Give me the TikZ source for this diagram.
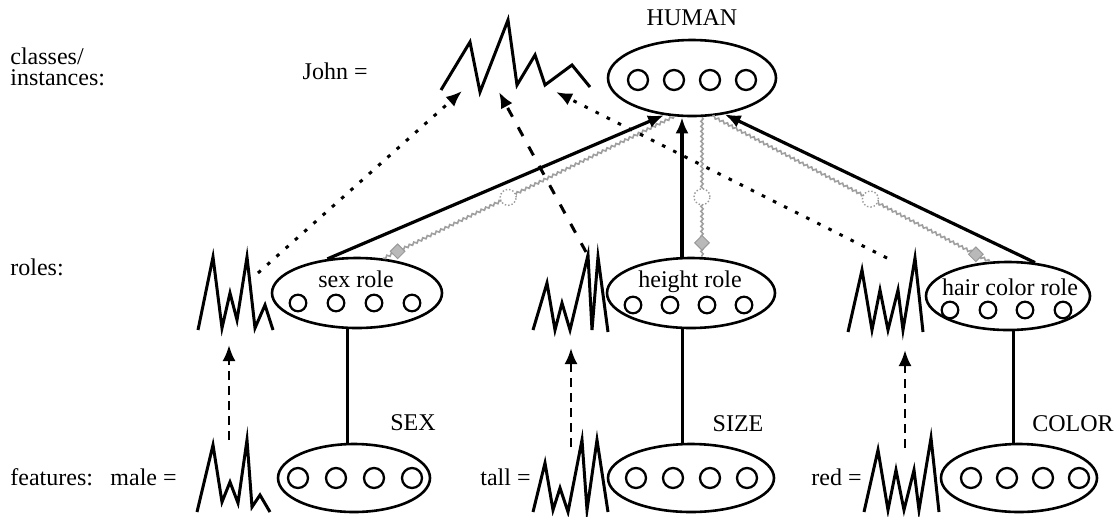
\documentclass[tikz,border=0pt]{standalone}
\usepackage{fontspec}
\setmainfont{Liberation Serif}
\usetikzlibrary{shapes.geometric,arrows.meta,decorations.pathmorphing,calc}
\tikzset{
  ell/.style={ellipse, draw, line width=1.3pt, inner sep=0pt},
  bub/.style={circle, draw, line width=1.15pt, inner sep=0pt, minimum size=10pt},
  sbub/.style={circle, draw, line width=1.1pt, inner sep=0pt, minimum size=8.3pt},
  lbl/.style={font=\fontsize{12}{14}\selectfont, inner sep=0pt},
  zz/.style={line width=1.5pt, line join=miter},
  tip/.style={-{Latex[length=8pt,width=6.5pt]}},
  link/.style={tip, line width=1.6pt},
  vline/.style={line width=1.5pt},
  gline/.style={gray!75, line width=0.8pt, decorate, decoration={snake, amplitude=0.6pt, segment length=2.5pt}},
  gcirc/.style={circle, draw=gray!80, densely dotted, line width=0.7pt, minimum size=8pt, inner sep=0pt, fill=white},
  gdia/.style={diamond, draw=gray!80, fill=gray!55, line width=0.5pt, minimum size=7.5pt, inner sep=0pt},
  dotarrow/.style={tip, line width=1.5pt, dash pattern=on 1.8pt off 4.4pt},
  dasharrow/.style={tip, line width=1.5pt, dash pattern=on 5pt off 6pt},
  updash/.style={tip, line width=1.3pt, dash pattern=on 4.5pt off 3pt},
}
\begin{document}
\begin{tikzpicture}[x=0.5pt,y=-0.5pt]
\useasboundingbox (0,0) rectangle (1119,516);

% ---- left labels
\node[lbl, anchor=west] (lclasses) at (10,56) {classes/};
\node[lbl, anchor=west] (linst) at (10,78) {instances:};
\node[lbl, anchor=west] (lroles) at (10,267) {roles:};
\node[lbl, anchor=west] (lfeat) at (10,477) {features:};

% ---- HUMAN
\node[ell, minimum width=84pt, minimum height=38pt] (human) at (692,78) {};
\node[lbl] (humanlbl) at (692,18) {HUMAN};
\foreach \x [count=\i] in {638,674,710,746} \node[bub] (hc\i) at (\x,80) {};

% ---- John
\node[lbl, anchor=east] (john) at (368,71) {John =};
\draw[zz] (441,90) -- (470,42) -- (480,92) -- (508,20) -- (517,85) -- (535,55) -- (545,85) -- (572,65) -- (590,87);

% ---- role ellipses
\node[ell, minimum width=85pt, minimum height=35pt] (sexrole) at (357,293) {};
\node[lbl] (sexrolelbl) at (356,279) {sex role};
\foreach \x [count=\i] in {298,336,374,412} \node[sbub] (sr\i) at (\x,303) {};

\node[ell, minimum width=84pt, minimum height=35pt] (heightrole) at (691,293) {};
\node[lbl] (heightrolelbl) at (690,282) {height role};
\foreach \x [count=\i] in {633,670,707,744} \node[sbub] (hr\i) at (\x,305) {};

\node[ell, minimum width=82pt, minimum height=34pt] (hairrole) at (1008,296) {};
\node[lbl] (hairrolelbl) at (1010,287) {hair color role};
\foreach \x [count=\i] in {950,988,1025,1063} \node[sbub] (cr\i) at (\x,310) {};

% ---- role zigzags
\draw[zz] (198,330) -- (213,257) -- (222,328) -- (230,293) -- (237,320) -- (247,257) -- (255,328) -- (265,305) -- (273,330);
\draw[zz] (533,330) -- (547,283) -- (555,330) -- (562,303) -- (570,330) -- (588,255) -- (592,330) -- (598,257) -- (608,332);
\draw[zz] (848,332) -- (862,270) -- (872,330) -- (880,290) -- (888,330) -- (898,290) -- (903,330) -- (915,258) -- (923,332);

% ---- feature ellipses
\node[ell, minimum width=76pt, minimum height=34pt] (SEX) at (354,478) {};
\node[lbl] (SEXlbl) at (413,423) {SEX};
\foreach \x [count=\i] in {298,336,374,412} \node[bub] (sf\i) at (\x,478) {};

\node[ell, minimum width=83pt, minimum height=34pt] (SIZE) at (691,478) {};
\node[lbl] (SIZElbl) at (738,424) {SIZE};
\foreach \x [count=\i] in {636,673,710,747} \node[bub] (zf\i) at (\x,478) {};

\node[ell, minimum width=78pt, minimum height=34pt] (COLOR) at (1019,478) {};
\node[lbl] (COLORlbl) at (1073,424) {COLOR};
\foreach \x [count=\i] in {971,1007,1043,1079} \node[bub] (cf\i) at (\x,478) {};

% ---- feature labels and zigzags
\node[lbl, anchor=east] (male) at (177,477) {male =};
\node[lbl, anchor=east] (tall) at (531,477) {tall =};
\node[lbl, anchor=east] (red) at (862,477) {red =};
\draw[zz] (197,512) -- (213,445) -- (222,502) -- (230,482) -- (238,503) -- (247,440) -- (252,507) -- (260,495) -- (270,512);
\draw[zz] (533,512) -- (545,463) -- (553,510) -- (560,488) -- (568,512) -- (582,440) -- (587,510) -- (597,440) -- (608,512);
\draw[zz] (864,512) -- (878,450) -- (888,510) -- (896,470) -- (904,510) -- (914,470) -- (919,510) -- (931,438) -- (939,512);

% ---- vertical role -> feature lines
\coordinate (sv) at ($(sexrole.south)+(-10,0)$);
\coordinate (hv) at ($(heightrole.south)+(-9,0)$);
\coordinate (cv) at ($(hairrole.south)+(5,0)$);
\draw[vline] (sv) -- (sv |- SEX.north);
\draw[vline] (hv) -- (hv |- SIZE.north);
\draw[vline] (cv) -- (cv |- COLOR.north);

% ---- gray role links
\coordinate (g1a) at (human.245);
\coordinate (g1b) at (sexrole.53);
\coordinate (g2a) at ($(human.south)+(10,0)$);
\coordinate (g2b) at ($(heightrole.north)+(11,0)$);
\coordinate (g3a) at (human.298);
\coordinate (g3b) at (hairrole.118);
\draw[gline] (g1a) -- (g1b);
\draw[gline] (g2a) -- (g2b);
\draw[gline] (g3a) -- (g3b);
\node[gcirc] (gc1) at ($(g1a)!0.57!(g1b)$) {};
\node[gdia] (gd1) at ($(g1a)!0.95!(g1b)$) {};
\node[gcirc] (gc2) at ($(g2a)!0.57!(g2b)$) {};
\node[gdia] (gd2) at ($(g2a)!0.90!(g2b)$) {};
\node[gcirc] (gc3) at ($(g3a)!0.57!(g3b)$) {};
\node[gdia] (gd3) at ($(g3a)!0.95!(g3b)$) {};

% ---- solid links role -> HUMAN
\coordinate (hrt) at ($(heightrole.north)+(-9,0)$);
\draw[link] (sexrole.131) -- (human.233);
\draw[link] (hrt) -- (hrt |- human.south);
\draw[link] (hairrole.51) -- (human.312);

% ---- arrows into John
\coordinate (sexZ) at (258,273);
\coordinate (heightZ) at (586,252);
\coordinate (hairZ) at (887,258);
\coordinate (j1) at (462,91);
\coordinate (j2) at (499,92);
\coordinate (j3) at (556,92);
\draw[dotarrow] (sexZ) -- (j1);
\draw[dasharrow] (heightZ) -- (j2);
\draw[dotarrow] (hairZ) -- (j3);

% ---- arrows from features to roles
\coordinate (maleT) at (229,440);
\coordinate (sexB) at (229,345);
\coordinate (tallT) at (571,447);
\coordinate (heightB) at (571,348);
\coordinate (redT) at (905,448);
\coordinate (hairB) at (905,350);
\draw[updash] (maleT) -- (sexB);
\draw[updash] (tallT) -- (heightB);
\draw[updash] (redT) -- (hairB);
\end{tikzpicture}
\end{document}
